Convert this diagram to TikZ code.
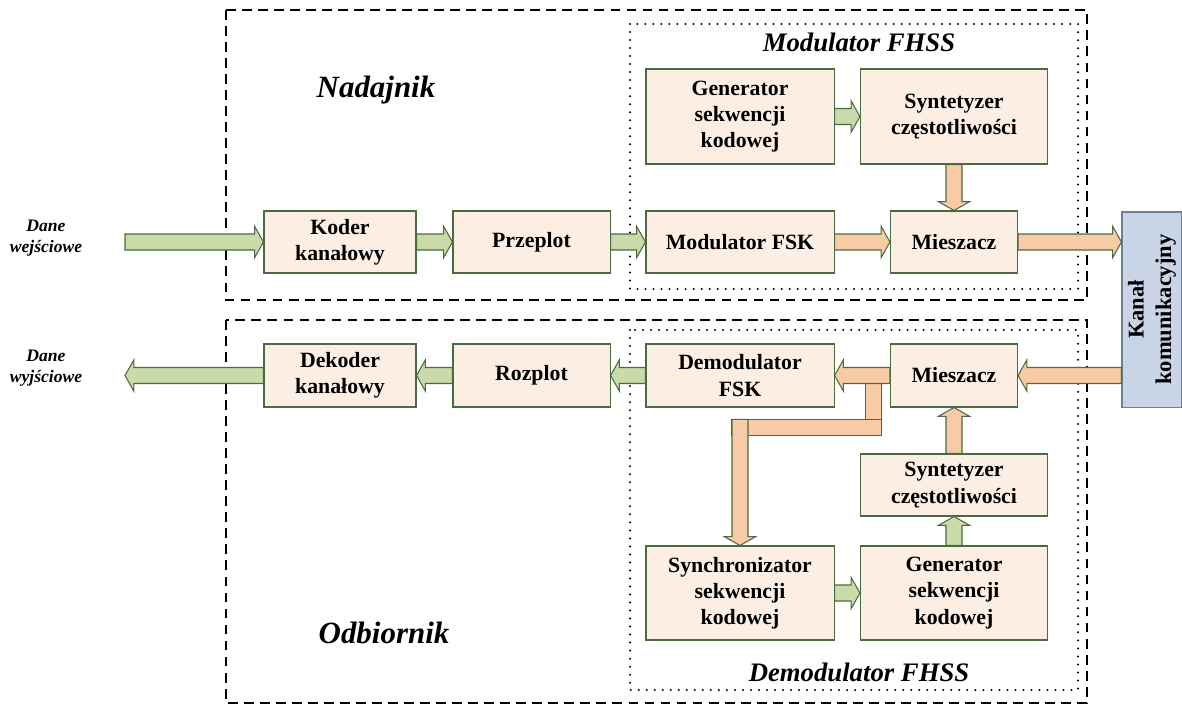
\documentclass[tikz,border=0pt]{standalone}
\usepackage{fontspec}
\setmainfont{Liberation Serif}
\usepackage{tikz}
\usetikzlibrary{calc}
\definecolor{boxfill}{HTML}{FCEEE3}
\definecolor{boxline}{HTML}{4A6B42}
\definecolor{greenarr}{HTML}{C9DBA9}
\definecolor{orangearr}{HTML}{F8CBA6}
\definecolor{chanfill}{HTML}{C9D5E6}
\definecolor{chanline}{HTML}{6E8096}
\tikzset{
  blok/.style={draw=boxline,fill=boxfill,line width=.75pt,align=center,inner sep=1pt,
    font=\bfseries\fontsize{15.5}{18.6}\selectfont},
  kanal/.style={draw=chanline,fill=chanfill,line width=.75pt,align=center,inner sep=1pt,
    font=\bfseries\fontsize{16}{19.5}\selectfont},
  grarrow/.style={draw=boxline,fill=greenarr,line width=.75pt},
  orarrow/.style={draw=boxline,fill=orangearr,line width=.75pt},
  tytul/.style={font=\bfseries\itshape\fontsize{22}{26}\selectfont},
  podtytul/.style={font=\bfseries\itshape\fontsize{19}{22}\selectfont},
  opis/.style={font=\bfseries\itshape\fontsize{12.5}{15}\selectfont,align=center},
  ramka/.style={line width=1.5pt,dash pattern=on 7pt off 4.4pt},
  kropki/.style={line width=1.6pt,dash pattern=on 0pt off 5.7pt,line cap=round},
}
% block arrow: [style]{from}{to}
\newcommand{\barrow}[3][grarrow]{%
  \coordinate (hb) at ($(#3)!0.22cm!(#2)$);
  \filldraw[#1] ($(#2)!0.2cm!90:(#3)$) -- ($(hb)!0.2cm!90:(#3)$)
    -- ($(hb)!0.39cm!90:(#3)$) -- (#3) -- ($(hb)!0.39cm!-90:(#3)$)
    -- ($(hb)!0.2cm!-90:(#3)$) -- ($(#2)!0.2cm!-90:(#3)$) -- cycle;}

\begin{document}
\begin{tikzpicture}[x=0.025cm,y=-0.025cm]
  \useasboundingbox (0,0) rectangle (1182,704);

  % frames
  \draw[ramka] (226,10) rectangle (1087,300);
  \draw[ramka] (226,320) rectangle (1087,703);
  \draw[kropki] (630,24) rectangle (1078,289);
  \draw[kropki] (630,330) rectangle (1078,690);
  \node[tytul] (nad) at (376,90) {Nadajnik};
  \node[tytul] (odb) at (384,633) {Odbiornik};
  \node[podtytul] (modt) at (859,42) {Modulator FHSS};
  \node[podtytul] (demodt) at (859,672) {Demodulator FHSS};
  \node[opis] (wej) at (46,238) {Dane\\wejściowe};
  \node[opis] (wyj) at (46,368) {Dane\\wyjściowe};

  % transmitter
  \node[blok,minimum width=3.8cm,minimum height=1.55cm] (koder) at (340,242) {Koder\\kanałowy};
  \node[blok,minimum width=3.925cm,minimum height=1.55cm] (przeplot) at (531.5,242) {Przeplot};
  \node[blok,minimum width=4.7cm,minimum height=1.55cm] (modfsk) at (740,242) {Modulator FSK};
  \node[blok,minimum width=3.175cm,minimum height=1.55cm] (mix1) at (954,242) {Mieszacz};
  \node[blok,minimum width=4.7cm,minimum height=2.375cm] (gen1) at (740,116.5) {Generator\\sekwencji\\kodowej};
  \node[blok,minimum width=4.675cm,minimum height=2.375cm] (syn1) at (954,116.5) {Syntetyzer\\częstotliwości};
  \node[kanal,rotate=90,minimum width=4.875cm,minimum height=1.5cm] (kanal) at (1152,309.5) {Kanał\\komunikacyjny};

  % receiver
  \node[blok,minimum width=3.8cm,minimum height=1.575cm] (dekoder) at (340,375.5) {Dekoder\\kanałowy};
  \node[blok,minimum width=3.925cm,minimum height=1.575cm] (rozplot) at (531.5,375.5) {Rozplot};
  \node[blok,minimum width=4.7cm,minimum height=1.575cm] (demod) at (740,375.5) {Demodulator\\FSK};
  \node[blok,minimum width=3.175cm,minimum height=1.575cm] (mix2) at (954,375.5) {Mieszacz};
  \node[blok,minimum width=4.675cm,minimum height=1.55cm] (syn2) at (954,485) {Syntetyzer\\częstotliwości};
  \node[blok,minimum width=4.7cm,minimum height=2.35cm] (sync) at (740,593) {Synchronizator\\sekwencji\\kodowej};
  \node[blok,minimum width=4.675cm,minimum height=2.35cm] (gen2) at (954,593) {Generator\\sekwencji\\kodowej};

  \coordinate (in) at (125,242);
  \coordinate (out) at (125,375.5);
  \coordinate (kin) at (kanal.north |- mix1.east);
  \coordinate (kout) at (kanal.north |- mix2.east);
  \coordinate (tap) at ($(mix2.west)+(-16.5,0)$);
  \coordinate (knee) at ($(sync.north)+(0,-126)$);

  \barrow{in}{koder.west}
  \barrow{koder.east}{przeplot.west}
  \barrow{przeplot.east}{modfsk.west}
  \barrow[orarrow]{modfsk.east}{mix1.west}
  \barrow[orarrow]{mix1.east}{kin}
  \barrow{gen1.east}{syn1.west}
  \barrow[orarrow]{syn1.south}{mix1.north}

  \barrow[orarrow]{kout}{mix2.east}
  \filldraw[orarrow] ($(tap)+(-8,0)$) rectangle ($(tap|-knee)+(8,16)$);
  \filldraw[orarrow] ($(knee)+(-8,0)$) rectangle ($(tap|-knee)+(8,16)$);
  \barrow[orarrow]{knee}{sync.north}
  \barrow[orarrow]{mix2.west}{demod.east}
  \barrow{demod.west}{rozplot.east}
  \barrow{rozplot.west}{dekoder.east}
  \barrow{dekoder.west}{out}
  \barrow{sync.east}{gen2.west}
  \barrow{gen2.north}{syn2.south}
  \barrow[orarrow]{syn2.north}{mix2.south}
\end{tikzpicture}
\end{document}
